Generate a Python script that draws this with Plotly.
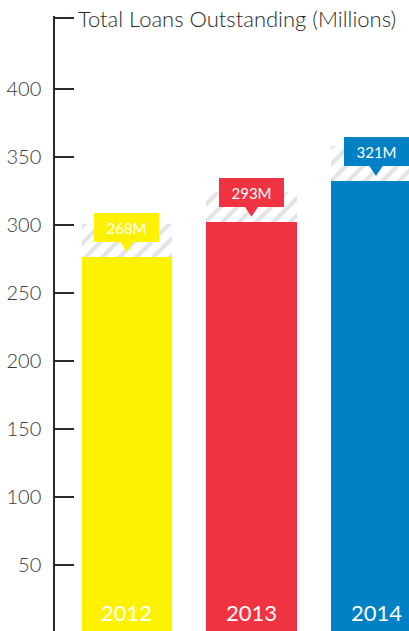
import plotly.graph_objects as go

# ---- data ----
years = ["2012", "2013", "2014"]
bar_values = [276.7, 302.4, 332.4]        # solid bar tops
hatch_tops = [300.5, 324.5, 358.1]        # top of hatched band
callouts = ["268M", "293M", "321M"]
colors = ["#FFF200", "#EF3340", "#0081C6"]
tick_values = [50, 100, 150, 200, 250, 300, 350, 400]
y_top = 452.2
y_bottom = 1.47
title_text = "Total Loans Outstanding (Millions)"

FONT = "Lato, 'Open Sans', sans-serif"
INK = "#2b2b2b"

xs = list(range(len(years)))
bar_w = 0.723

fig = go.Figure()
fig.add_trace(go.Bar(
    x=xs, y=bar_values, width=bar_w,
    marker=dict(color=colors, line=dict(width=0)),
    hoverinfo="skip", showlegend=False,
))
fig.add_trace(go.Bar(
    x=xs, base=bar_values,
    y=[t - b for t, b in zip(hatch_tops, bar_values)], width=bar_w,
    marker=dict(color="white", line=dict(width=0),
                pattern=dict(shape="/", fgcolor="#c8c8c8", bgcolor="white",
                             size=12, solidity=0.35)),
    hoverinfo="skip", showlegend=False,
))

annotations = []
shapes = []
for i, (v, lab, c, yr) in enumerate(zip(bar_values, callouts, colors, years)):
    annotations.append(dict(
        x=i, y=v, xref="x", yref="y", yanchor="bottom", xanchor="center",
        yshift=15, text=lab, showarrow=False, width=65, height=29,
        bgcolor=c, borderpad=0, borderwidth=0,
        font=dict(family=FONT, size=15, color="white"),
    ))
    shapes.append(dict(
        type="path", xref="x", yref="y", xsizemode="pixel", ysizemode="pixel",
        xanchor=i, yanchor=v, path="M -8,17 L 8,17 L 0,5 Z",
        fillcolor=c, line=dict(width=0), layer="above",
    ))
    annotations.append(dict(
        x=i, y=0, xref="x", yref="paper", yanchor="middle", xanchor="center",
        yshift=19, text=yr, showarrow=False,
        font=dict(family=FONT, size=22, color="white"),
    ))

annotations.append(dict(
    x=0, y=y_top, xref="paper", yref="y", xanchor="left", yanchor="middle",
    xshift=21, yshift=0, text=title_text, showarrow=False,
    font=dict(family=FONT, size=22, color=INK, weight=300),
))

fig.update_layout(
    width=409, height=631,
    margin=dict(l=55, r=0, t=16, b=0),
    paper_bgcolor="white", plot_bgcolor="white",
    barmode="overlay", bargap=0,
    xaxis=dict(visible=False, range=[-0.578, 2.265], fixedrange=True),
    yaxis=dict(
        range=[y_bottom, y_top + 1.5],
        tickvals=tick_values + [y_top],
        ticktext=[str(t) for t in tick_values] + [""],
        ticks="inside", ticklen=19, tickwidth=1.5, tickcolor=INK,
        showline=True, linecolor=INK, linewidth=1.5,
        showgrid=False, zeroline=False,
        ticklabelstandoff=8,
        tickfont=dict(family=FONT, size=20, color="#3a3a3a", weight=300),
    ),
    annotations=annotations, shapes=shapes,
)

fig.write_html("out.html")
